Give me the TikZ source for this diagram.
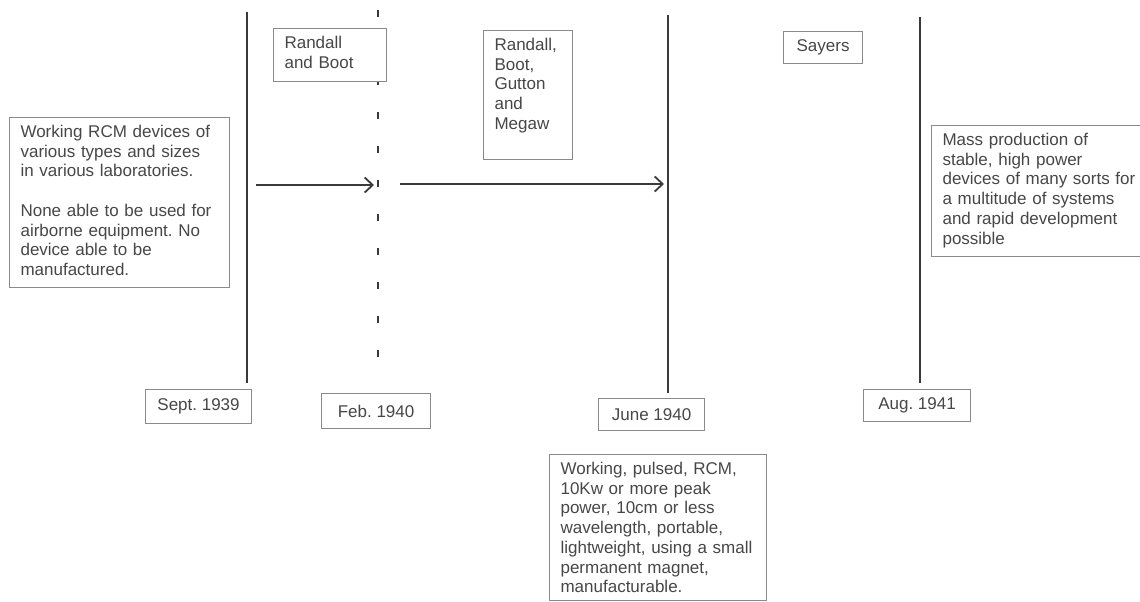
\documentclass[tikz,border=0pt]{standalone}
\usepackage{fontspec}
\setmainfont{Liberation Sans}
\usetikzlibrary{arrows.meta, positioning}
\frenchspacing
\definecolor{tlink}{HTML}{3A3A3A}
\definecolor{tltext}{HTML}{474747}
\definecolor{tlframe}{HTML}{8A8A8A}
\tikzset{
  tlbox/.style  = {font=\fontsize{17}{19.7}\selectfont, align=left, anchor=north west,
                   draw=tlframe, fill=white, text=tltext, line width=1.1pt,
                   inner xsep=11pt, inner ysep=7pt, text height=13pt},
  tldate/.style = {font=\fontsize{17}{19.7}\selectfont, anchor=north west,
                   draw=tlframe, fill=white, text=tltext, line width=1.1pt,
                   minimum width=106pt, minimum height=34pt, inner sep=2pt},
  tlline/.style = {draw=tlink, line width=2pt, shorten >=6pt},
  tlgap/.style  = {tlline, line width=1.6pt, dash pattern=on 7pt off 27pt,
                   shorten >=13pt},
  tlarr/.style  = {draw=tlink, line width=1.8pt, shorten >=4pt,
                   -{Straight Barb[length=8pt, width=15pt, line width=1.8pt]}},
}
\begin{document}
\begin{tikzpicture}[x=1pt, y=-1pt]
  \useasboundingbox (0,0) rectangle (1140,602);
  \clip (0,0) rectangle (1140,602);
  % dates
  \node[tldate] (sep) at (145,389) {Sept. 1939};
  \node[tldate, minimum width=109pt, minimum height=35pt] (feb) at (321,393) {Feb. 1940};
  \node[tldate, minimum height=32pt] (jun) at (598,398) {June 1940};
  \node[tldate, minimum width=107pt, minimum height=32pt] (aug) at (863,389) {Aug. 1941};
  % time lines
  \coordinate (s1) at (247,12);
  \coordinate (s2) at (378,10);
  \coordinate (s3) at (668,15);
  \coordinate (s4) at (920,17);
  \draw[tlline] (s1) -- (s1 |- sep.north);
  \draw[tlgap] (s2) -- (s2 |- feb.north);
  \draw[tlline, shorten >=5pt] (s3) -- (s3 |- jun.north);
  \draw[tlline] (s4) -- (s4 |- aug.north);
  % steps
  \coordinate (a1) at (256,185);
  \coordinate (a2) at (400,184);
  \draw[tlarr] (a1) -- (a1 -| s2);
  \draw[tlarr] (a2) -- (a2 -| s3);
  % notes
  \node[tlbox, text width=198pt, text depth=143pt] (lab) at (9,117)
       {Working RCM devices of\\various types and sizes\\in various laboratories.\\[19.7pt]
        None able to be used for\\airborne equipment. No\\device able to be\\manufactured.};
  \node[tlbox, text width=91pt, text depth=26pt] (rb) at (273,28) {Randall\\and Boot};
  \node[tlbox, text width=67pt, text depth=102pt] (rbgm) at (483,30)
       {Randall,\\Boot,\\Gutton\\and\\Megaw};
  \node[tldate, minimum width=79pt, minimum height=32pt] (say) at (783,31) {Sayers};
  \node[tlbox, text width=230pt, text depth=104pt] (mass) at (931,125)
       {Mass production of\\stable, high power\\devices of many sorts for\\a multitude of systems\\and rapid development\\possible};
  \node[tlbox, text width=195pt, text depth=119pt] (pulse) at (549,454)
       {Working, pulsed, RCM,\\10Kw or more peak\\power, 10cm or less\\wavelength, portable,\\lightweight, using a small\\permanent magnet,\\manufacturable.};
\end{tikzpicture}
\end{document}
